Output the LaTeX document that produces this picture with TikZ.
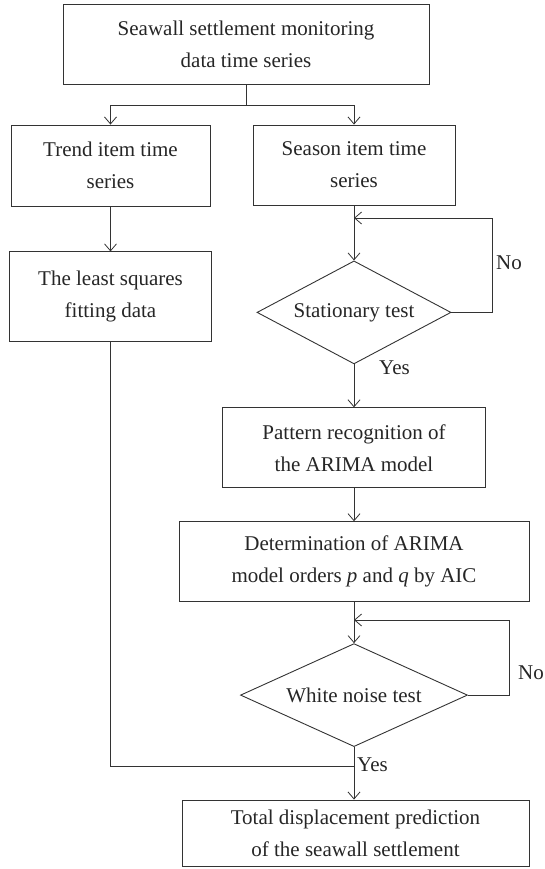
\documentclass[tikz,border=0pt]{standalone}
\usepackage{fontspec}
\setmainfont{Liberation Serif}
\usepackage{tikz}
\usetikzlibrary{positioning,arrows.meta,shapes.geometric}
\tikzset{
procbox/.style={
draw=black!80,
line width=0.9pt,
minimum height=80pt,
inner sep=0pt,
align=center,
text=black!85,
font=\fontsize{21}{32}\selectfont
},
testnode/.style={
diamond,
draw=black!80,
line width=0.9pt,
aspect=1.9,
minimum width=194pt,
minimum height=103pt,
inner sep=0pt,
align=center,
text=black!85,
font=\fontsize{21}{32}\selectfont
},
answer/.style={
anchor=west,
inner sep=0pt,
text=black!85,
font=\fontsize{21}{32}\selectfont
},
arrow/.style={
-{Straight Barb[length=7pt,width=12pt]},
draw=black!80,
line width=0.8pt
}
}
\begin{document}
\begin{tikzpicture}
\useasboundingbox(0,0)rectangle(545pt,-869pt);
\node[procbox,minimum width=366pt](top)at(246pt,-44pt){Seawall settlement monitoring\\data time series};
\node[procbox,minimum width=199pt,minimum height=81pt](trend)at(110.5pt,-165.5pt){Trend item time\\series};
\node[procbox,minimum width=202pt](season)at(354pt,-165pt){Season item time\\series};
\node[procbox,minimum width=202pt,minimum height=90pt,below=45pt of trend](lsq){The least squares\\fitting data};
\node[testnode,below=55pt of season](stat){Stationary test};
\node[procbox,minimum width=263pt,below=43pt of stat](pat){Pattern recognition of\\the ARIMA model};
\node[procbox,minimum width=350pt,below=33pt of pat](det){Determination of ARIMA\\model orders \textit{p} and \textit{q} by AIC};
\node[testnode,minimum width=227pt,below=41pt of det](wn){White noise test};
\node[procbox,minimum width=347pt,minimum height=66pt](total)at(355.5pt,-833pt){Total displacement prediction\\of the seawall settlement};

\node[answer](no1)at(496pt,-263pt){No};
\node[answer](yes1)at(379pt,-368pt){Yes};
\node[answer](no2)at(518pt,-673pt){No};
\node[answer](yes2)at(357pt,-765pt){Yes};

\coordinate(split)at(246pt,-105pt);
\coordinate(loop1)at(492pt,-218pt);
\coordinate(loop2)at(509pt,-620pt);
\coordinate(merge)at(354pt,-766pt);

\draw[arrow](top.south)--(split)-|(trend.north);
\draw[arrow](split)-|(season.north);
\draw[arrow](trend)--(lsq);
\draw[arrow](season)--(stat);
\draw[arrow](stat.east)-|(loop1)--(loop1-|season.south);
\draw[arrow](stat)--(pat);
\draw[arrow](pat)--(det);
\draw[arrow](det)--(wn);
\draw[arrow](wn.east)-|(loop2)--(loop2-|det.south);
\draw[arrow](wn.south)--(wn.south|-total.north);
\draw[draw=black!80,line width=0.8pt](lsq.south)|-(merge);
\end{tikzpicture}
\end{document}
